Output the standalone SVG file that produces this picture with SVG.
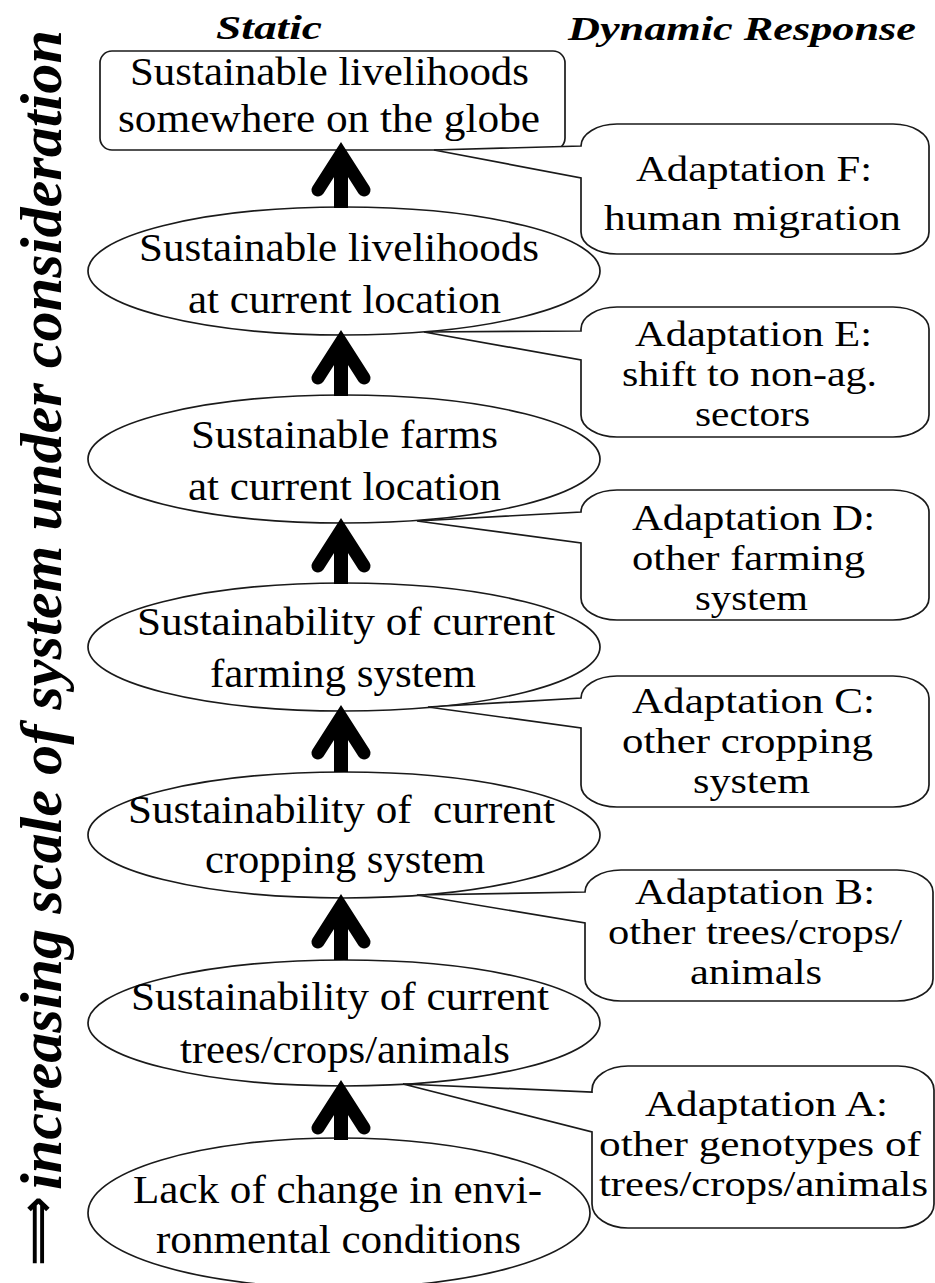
<svg xmlns="http://www.w3.org/2000/svg" width="935" height="1283" viewBox="0 0 935 1283" font-family="Liberation Serif, Times New Roman, serif">
<defs>
<style>
.bg{fill:#ffffff}
.shape{fill:#ffffff;stroke:#1a1a1a;stroke-width:1.7}
.t{font-size:40px;fill:#000}
.ct{font-size:36px;fill:#000}
.hd{font-size:34px;font-weight:bold;font-style:italic;fill:#000}
.side{font-size:60px;font-weight:bold;font-style:italic;fill:#000}
.arrowglyph{font-size:50px;font-weight:bold;fill:#000}
.arr{fill:none;stroke:#000;stroke-width:14}
.barb{fill:none;stroke:#000;stroke-width:13;stroke-linecap:round;stroke-linejoin:miter;stroke-miterlimit:6}
</style>
</defs>
<rect class="bg" x="0" y="0" width="935" height="1283"/>

<g id="headers">
<text class="hd" x="216" y="39" textLength="106" lengthAdjust="spacingAndGlyphs">Static</text>
<text class="hd" x="568" y="40" textLength="348" lengthAdjust="spacingAndGlyphs">Dynamic Response</text>
</g>

<g id="axis-label">
<text class="side" transform="translate(61,1190) rotate(-90)" textLength="1160" lengthAdjust="spacingAndGlyphs">increasing scale of system under consideration</text>
<text class="arrowglyph" font-family="DejaVu Sans, sans-serif" transform="translate(54,1266) rotate(-90)" textLength="70" lengthAdjust="spacingAndGlyphs">⟹</text>
</g>

<g id="node-globe">
<rect class="shape" x="100" y="51" width="465" height="99" rx="12" ry="12"/>
<text class="t" x="130" y="85" textLength="399" lengthAdjust="spacingAndGlyphs">Sustainable livelihoods</text>
<text class="t" x="118" y="132" textLength="422" lengthAdjust="spacingAndGlyphs">somewhere on the globe</text>
</g>

<g id="node-livelihoods">
<ellipse class="shape" cx="344" cy="271" rx="256" ry="64"/>
<text class="t" x="139" y="261" textLength="400" lengthAdjust="spacingAndGlyphs">Sustainable livelihoods</text>
<text class="t" x="188" y="313" textLength="313" lengthAdjust="spacingAndGlyphs">at current location</text>
</g>

<g id="node-farms">
<ellipse class="shape" cx="344" cy="459" rx="256" ry="64"/>
<text class="t" x="191" y="448" textLength="307" lengthAdjust="spacingAndGlyphs">Sustainable farms</text>
<text class="t" x="188" y="500" textLength="313" lengthAdjust="spacingAndGlyphs">at current location</text>
</g>

<g id="node-farming-system">
<ellipse class="shape" cx="344" cy="647" rx="256" ry="64"/>
<text class="t" x="137" y="635" textLength="418" lengthAdjust="spacingAndGlyphs">Sustainability of current</text>
<text class="t" x="210" y="687" textLength="266" lengthAdjust="spacingAndGlyphs">farming system</text>
</g>

<g id="node-cropping-system">
<ellipse class="shape" cx="344" cy="835" rx="256" ry="63"/>
<text class="t" x="128" y="823" textLength="427" lengthAdjust="spacingAndGlyphs" xml:space="preserve">Sustainability of  current</text>
<text class="t" x="205" y="873" textLength="280" lengthAdjust="spacingAndGlyphs">cropping system</text>
</g>

<g id="node-trees">
<ellipse class="shape" cx="344" cy="1023" rx="256" ry="63"/>
<text class="t" x="131" y="1010" textLength="418" lengthAdjust="spacingAndGlyphs">Sustainability of current</text>
<text class="t" x="180" y="1063" textLength="330" lengthAdjust="spacingAndGlyphs">trees/crops/animals</text>
</g>

<g id="node-environment">
<ellipse class="shape" cx="339" cy="1213" rx="251" ry="75"/>
<text class="t" x="133" y="1203" textLength="409" lengthAdjust="spacingAndGlyphs">Lack of change in envi-</text>
<text class="t" x="156" y="1253" textLength="365" lengthAdjust="spacingAndGlyphs">ronmental conditions</text>
</g>

<g id="connectors">
<path class="arr" d="M341,154 V208"/>
<path class="barb" d="M318,190 L341,154 L364,190"/>
<path class="arr" d="M341,342 V396"/>
<path class="barb" d="M318,378 L341,342 L364,378"/>
<path class="arr" d="M341,530 V584"/>
<path class="barb" d="M318,566 L341,530 L364,566"/>
<path class="arr" d="M341,717 V772"/>
<path class="barb" d="M318,753 L341,717 L364,753"/>
<path class="arr" d="M341,906 V960"/>
<path class="barb" d="M318,942 L341,906 L364,942"/>
<path class="arr" d="M341,1092 V1140"/>
<path class="barb" d="M318,1128 L341,1092 L364,1128"/>
</g>

<g id="callout-F">
<path class="shape" d="M617,124 H893 A36 22 0 0 1 929,146 V232 A36 22 0 0 1 893,254 H617 A36 22 0 0 1 581,232 V178 L434,150 L581,146 A36 22 0 0 1 617,124 Z"/>
<text class="ct" x="636" y="181" textLength="236" lengthAdjust="spacingAndGlyphs">Adaptation F:</text>
<text class="ct" x="604" y="230" textLength="297" lengthAdjust="spacingAndGlyphs">human migration</text>
</g>

<g id="callout-E">
<path class="shape" d="M617,307 H893 A36 22 0 0 1 929,329 V415 A36 22 0 0 1 893,437 H617 A36 22 0 0 1 581,415 V360 L424,332 L581,331 V329 A36 22 0 0 1 617,307 Z"/>
<text class="ct" x="635" y="346" textLength="237" lengthAdjust="spacingAndGlyphs">Adaptation E:</text>
<text class="ct" x="622" y="386" textLength="255" lengthAdjust="spacingAndGlyphs">shift to non-ag.</text>
<text class="ct" x="695" y="426" textLength="115" lengthAdjust="spacingAndGlyphs">sectors</text>
</g>

<g id="callout-D">
<path class="shape" d="M617,490 H893 A36 22 0 0 1 929,512 V598 A36 22 0 0 1 893,620 H617 A36 22 0 0 1 581,598 V543 L417,521 L581,512 A36 22 0 0 1 617,490 Z"/>
<text class="ct" x="632" y="530" textLength="243" lengthAdjust="spacingAndGlyphs">Adaptation D:</text>
<text class="ct" x="632" y="570" textLength="233" lengthAdjust="spacingAndGlyphs">other farming</text>
<text class="ct" x="695" y="610" textLength="113" lengthAdjust="spacingAndGlyphs">system</text>
</g>

<g id="callout-C">
<path class="shape" d="M617,676 H893 A36 22 0 0 1 929,698 V785 A36 22 0 0 1 893,807 H617 A36 22 0 0 1 581,785 V728 L428,707 L581,698 A36 22 0 0 1 617,676 Z"/>
<text class="ct" x="632" y="713" textLength="243" lengthAdjust="spacingAndGlyphs">Adaptation C:</text>
<text class="ct" x="622" y="753" textLength="251" lengthAdjust="spacingAndGlyphs">other cropping</text>
<text class="ct" x="693" y="793" textLength="117" lengthAdjust="spacingAndGlyphs">system</text>
</g>

<g id="callout-B">
<path class="shape" d="M621,870 H897 A36 22 0 0 1 933,892 V979 A36 22 0 0 1 897,1001 H621 A36 22 0 0 1 585,979 V923 L417,895 L585,892 A36 22 0 0 1 621,870 Z"/>
<text class="ct" x="635" y="904" textLength="240" lengthAdjust="spacingAndGlyphs">Adaptation B:</text>
<text class="ct" x="608" y="944" textLength="294" lengthAdjust="spacingAndGlyphs">other trees/crops/</text>
<text class="ct" x="690" y="984" textLength="132" lengthAdjust="spacingAndGlyphs">animals</text>
</g>

<g id="callout-A">
<path class="shape" d="M628,1066 H898 A36 24 0 0 1 934,1090 V1204 A36 24 0 0 1 898,1228 H628 A36 24 0 0 1 592,1204 V1132 L403,1084 L592,1092 V1090 A36 24 0 0 1 628,1066 Z"/>
<text class="ct" x="645" y="1116" textLength="243" lengthAdjust="spacingAndGlyphs">Adaptation A:</text>
<text class="ct" x="599" y="1156" textLength="322" lengthAdjust="spacingAndGlyphs">other genotypes of</text>
<text class="ct" x="599" y="1196" textLength="329" lengthAdjust="spacingAndGlyphs">trees/crops/animals</text>
</g>
</svg>
